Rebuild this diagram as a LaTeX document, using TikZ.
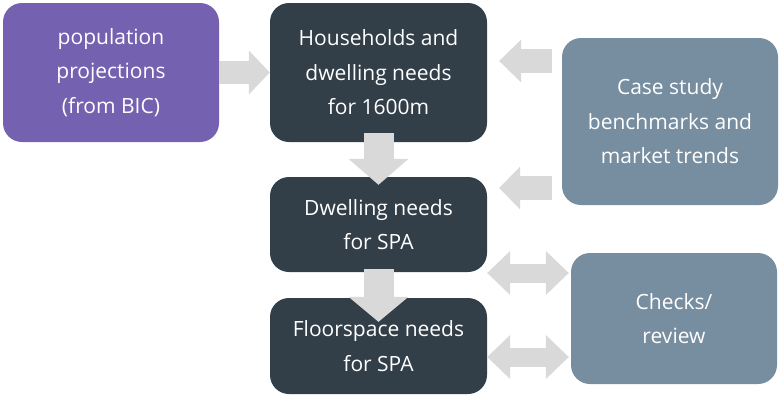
\documentclass[tikz,border=0pt]{standalone}
\usepackage{fontspec}
\setmainfont{Open Sans}
\usepackage{xcolor}
\usepackage{tikz}
\usetikzlibrary{arrows.meta}

\definecolor{popfill}{HTML}{7462B0}
\definecolor{darkfill}{HTML}{323E48}
\definecolor{greyfill}{HTML}{778DA0}
\definecolor{arrowfill}{HTML}{D9D9D9}

\begin{document}
\begin{tikzpicture}[x=1pt, y=-1pt,
    box/.style={rounded corners=19pt, text=white, align=center, inner sep=0pt,
      font=\fontsize{21}{34.5}\selectfont},
    bigarrow/.style={draw=arrowfill, line width=#1}]
  \useasboundingbox (0,0) rectangle (779,394);
  \node[box, fill=popfill, minimum width=216pt, minimum height=139pt] (pop) at (111,72.5)
       {population\\projections\\(from BIC)};
  \node[box, fill=darkfill, minimum width=217pt, minimum height=139pt] (hh) at (378.5,72.5)
       {Households and\\dwelling needs\\for 1600m};
  \node[box, fill=darkfill, minimum width=217pt, minimum height=95pt] (dwell) at (378.5,224.5)
       {Dwelling needs\\for SPA};
  \node[box, fill=darkfill, minimum width=217pt, minimum height=96pt] (floor) at (378.5,346)
       {Floorspace needs\\for SPA};
  \node[box, fill=greyfill, minimum width=216pt, minimum height=167pt] (bench) at (670,121.5)
       {Case study\\benchmarks and\\market trends};
  \node[box, fill=greyfill, minimum width=206pt, minimum height=131pt] (check) at (674,318.5)
       {Checks/\\review};

  \draw[bigarrow=23pt, -{Triangle[width=44pt, length=21pt, line width=0pt, fill=arrowfill]}]
       (pop.east) -- (hh.west);
  \draw[bigarrow=30pt, -{Triangle[width=60pt, length=26pt, line width=0pt, fill=arrowfill]},
       shorten <=-9pt, shorten >=-8pt] (hh.south) -- (dwell.north);
  \draw[bigarrow=30pt, -{Triangle[width=60pt, length=25pt, line width=0pt, fill=arrowfill]},
       shorten <=-3pt, shorten >=-24pt] (dwell.south) -- (floor.north);
  \draw[bigarrow=24pt, -{Triangle[width=43pt, length=22pt, line width=0pt, fill=arrowfill]},
       shorten <=10pt, shorten >=12pt]
       ([yshift=60.5pt]bench.west) -- ([yshift=60.5pt]bench.west -| hh.east);
  \draw[bigarrow=24pt, -{Triangle[width=43pt, length=21pt, line width=0pt, fill=arrowfill]},
       shorten <=10pt, shorten >=12pt]
       ([yshift=-66.5pt]bench.west) -- ([yshift=-66.5pt]bench.west -| dwell.east);
  \draw[bigarrow=19pt, {Triangle[width=44pt, length=23pt, line width=0pt, fill=arrowfill]}-{Triangle[width=44pt, length=23pt, line width=0pt, fill=arrowfill]},
       shorten >=2pt]
       ([yshift=-48.5pt]dwell.east) -- ([yshift=-48.5pt]dwell.east -| check.west);
  \draw[bigarrow=19pt, {Triangle[width=44pt, length=23pt, line width=0pt, fill=arrowfill]}-{Triangle[width=44pt, length=23pt, line width=0pt, fill=arrowfill]},
       shorten >=2pt]
       ([yshift=-11pt]floor.east) -- ([yshift=-11pt]floor.east -| check.west);
\end{tikzpicture}
\end{document}
